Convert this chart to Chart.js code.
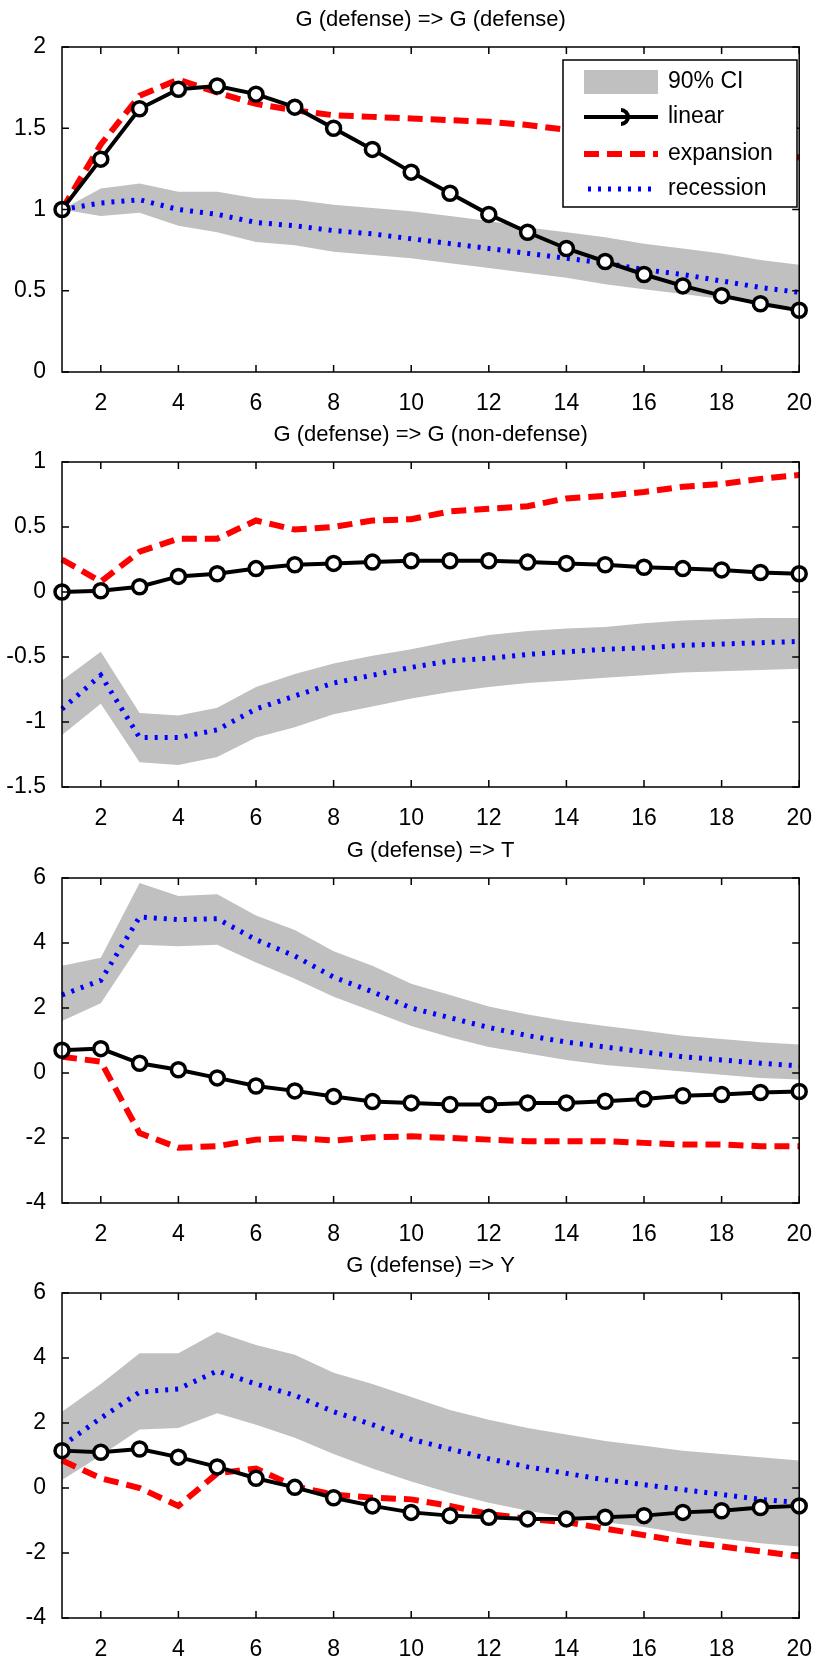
<!DOCTYPE html>
<html>
<head>
<meta charset="utf-8">
<script src="https://cdn.jsdelivr.net/npm/chart.js@4"></script>
<style>
  body { margin: 0; background: #fff; width: 822px; height: 1657px; overflow: hidden; }
  .panel { position: absolute; left: 0; width: 822px; height: 416px; }
</style>
</head>
<body>
<div class="panel" style="top:0"><canvas id="c0" width="822" height="416"></canvas></div>
<div class="panel" style="top:415px"><canvas id="c1" width="822" height="416"></canvas></div>
<div class="panel" style="top:831px"><canvas id="c2" width="822" height="416"></canvas></div>
<div class="panel" style="top:1246px"><canvas id="c3" width="822" height="416"></canvas></div>
<script>
const horizons = [1,2,3,4,5,6,7,8,9,10,11,12,13,14,15,16,17,18,19,20];
const xTicks = [2,4,6,8,10,12,14,16,18,20];

const titles = ['G (defense) => G (defense)', 'G (defense) => G (non-defense)', 'G (defense) => T', 'G (defense) => Y'];

// panel 1: G (defense) => G (defense)
const linear1 = [1,1.31,1.62,1.74,1.76,1.71,1.63,1.50,1.37,1.23,1.10,0.97,0.86,0.76,0.68,0.60,0.53,0.47,0.42,0.38];
const expansion1 = [1,1.4,1.7,1.8,1.72,1.65,1.61,1.58,1.57,1.56,1.55,1.54,1.52,1.49,1.47,1.45,1.42,1.39,1.36,1.32];
const recession1 = [1,1.04,1.06,1.0,0.97,0.92,0.9,0.87,0.85,0.82,0.79,0.76,0.73,0.7,0.67,0.63,0.6,0.56,0.52,0.49];
const ciHigh1 = [1,1.13,1.16,1.11,1.11,1.07,1.06,1.03,1.01,0.99,0.96,0.93,0.89,0.86,0.83,0.79,0.76,0.73,0.69,0.66];
const ciLow1 = [1,0.96,0.98,0.9,0.86,0.8,0.78,0.74,0.72,0.7,0.67,0.64,0.61,0.58,0.54,0.51,0.48,0.45,0.42,0.4];

// panel 2: G (defense) => G (non-defense)
const linear2 = [0,0.01,0.04,0.12,0.14,0.18,0.21,0.22,0.23,0.24,0.24,0.24,0.23,0.22,0.21,0.19,0.18,0.17,0.15,0.14];
const expansion2 = [0.25,0.08,0.31,0.41,0.41,0.55,0.48,0.50,0.55,0.56,0.62,0.64,0.66,0.72,0.74,0.77,0.81,0.83,0.87,0.9];
const recession2 = [-0.9,-0.64,-1.12,-1.12,-1.06,-0.9,-0.8,-0.7,-0.64,-0.58,-0.53,-0.51,-0.48,-0.46,-0.44,-0.43,-0.41,-0.40,-0.39,-0.38];
const ciHigh2 = [-0.68,-0.46,-0.93,-0.95,-0.89,-0.73,-0.63,-0.55,-0.49,-0.44,-0.38,-0.33,-0.30,-0.28,-0.27,-0.24,-0.22,-0.21,-0.2,-0.2];
const ciLow2 = [-1.1,-0.86,-1.31,-1.33,-1.27,-1.12,-1.04,-0.94,-0.88,-0.82,-0.77,-0.73,-0.7,-0.68,-0.66,-0.64,-0.62,-0.61,-0.6,-0.59];

// panel 3: G (defense) => T
const linear3 = [0.7,0.75,0.3,0.1,-0.15,-0.4,-0.55,-0.72,-0.88,-0.92,-0.97,-0.97,-0.92,-0.92,-0.87,-0.8,-0.7,-0.66,-0.6,-0.57];
const expansion3 = [0.5,0.35,-1.85,-2.3,-2.25,-2.05,-2.0,-2.08,-1.98,-1.95,-2.0,-2.05,-2.1,-2.1,-2.1,-2.15,-2.2,-2.2,-2.25,-2.25];
const recession3 = [2.4,2.85,4.8,4.72,4.75,4.1,3.6,2.95,2.5,2.0,1.7,1.4,1.15,0.95,0.8,0.65,0.5,0.4,0.3,0.22];
const ciHigh3 = [3.3,3.55,5.85,5.45,5.5,4.85,4.4,3.75,3.3,2.75,2.4,2.05,1.8,1.6,1.45,1.3,1.15,1.05,0.95,0.88];
const ciLow3 = [1.6,2.15,3.95,3.9,3.95,3.4,2.9,2.35,1.9,1.45,1.1,0.8,0.6,0.4,0.25,0.15,0.05,-0.05,-0.15,-0.2];

// panel 4: G (defense) => Y
const linear4 = [1.15,1.1,1.2,0.95,0.65,0.3,0.02,-0.3,-0.55,-0.75,-0.85,-0.9,-0.95,-0.95,-0.9,-0.85,-0.75,-0.7,-0.6,-0.55];
const expansion4 = [0.85,0.3,0.0,-0.55,0.45,0.6,0.05,-0.2,-0.3,-0.35,-0.55,-0.8,-0.95,-1.05,-1.25,-1.45,-1.65,-1.8,-1.95,-2.1];
const recession4 = [1.3,2.15,2.95,3.05,3.6,3.2,2.85,2.35,1.95,1.5,1.2,0.9,0.65,0.45,0.25,0.1,-0.05,-0.2,-0.35,-0.45];
const ciHigh4 = [2.35,3.2,4.15,4.15,4.8,4.4,4.1,3.55,3.2,2.8,2.4,2.1,1.85,1.65,1.45,1.3,1.15,1.05,0.95,0.85];
const ciLow4 = [0.25,1.0,1.8,1.85,2.3,1.95,1.55,1.05,0.6,0.2,-0.15,-0.45,-0.7,-0.9,-1.05,-1.2,-1.4,-1.55,-1.7,-1.8];

const yRanges = [[0,2,0.5],[-1.5,1,0.5],[-4,6,2],[-4,6,2]];
const legendLabels = ['90% CI','linear','expansion','recession'];

const panels = [
  [linear1, expansion1, recession1, ciHigh1, ciLow1],
  [linear2, expansion2, recession2, ciHigh2, ciLow2],
  [linear3, expansion3, recession3, ciHigh3, ciLow3],
  [linear4, expansion4, recession4, ciHigh4, ciLow4],
];

const FONT = 'Liberation Sans, Arial, sans-serif';
Chart.defaults.font.family = FONT;
Chart.defaults.font.size = 23;
Chart.defaults.color = '#000';

function pts(arr) { return horizons.map((h, i) => ({ x: h, y: arr[i] })); }

// frame, inward ticks, title, legend
const framePlugin = {
  id: 'frame',
  afterDatasetsDraw(chart, args, opts) {
    const ctx = chart.ctx, a = chart.chartArea;
    const xs = chart.scales.x, ys = chart.scales.y;
    ctx.save();
    ctx.strokeStyle = '#000';
    ctx.lineWidth = 1.5;
    ctx.strokeRect(a.left, a.top, a.right - a.left, a.bottom - a.top);
    xTicks.forEach(t => {
      const px = xs.getPixelForValue(t);
      ctx.beginPath();
      ctx.moveTo(px, a.bottom); ctx.lineTo(px, a.bottom - 7);
      ctx.moveTo(px, a.top); ctx.lineTo(px, a.top + 7);
      ctx.stroke();
    });
    ys.ticks.forEach(t => {
      const py = ys.getPixelForValue(t.value);
      ctx.beginPath();
      ctx.moveTo(a.left, py); ctx.lineTo(a.left + 7, py);
      ctx.moveTo(a.right, py); ctx.lineTo(a.right - 7, py);
      ctx.stroke();
    });
    ctx.fillStyle = '#000';
    ctx.font = '22px ' + FONT;
    ctx.textAlign = 'center';
    ctx.textBaseline = 'middle';
    ctx.fillText(opts.title, (a.left + a.right) / 2, 20);

    if (opts.legend) {
      const lx = 563, ly = 60, lw = 234, lh = 147;
      ctx.fillStyle = '#fff';
      ctx.fillRect(lx, ly, lw, lh);
      ctx.lineWidth = 1.5;
      ctx.strokeRect(lx, ly, lw, lh);
      const rows = [82, 117, 154, 189];
      const x0 = 584, x1 = 658;
      ctx.fillStyle = '#c0c0c0';
      ctx.fillRect(x0, rows[0] - 12, x1 - x0, 24);
      ctx.strokeStyle = '#000'; ctx.lineWidth = 4;
      ctx.beginPath(); ctx.moveTo(x0, rows[1]); ctx.lineTo(x1, rows[1]); ctx.stroke();
      ctx.beginPath(); ctx.arc((x0 + x1) / 2, rows[1], 7, -Math.PI / 2, Math.PI / 2); ctx.stroke();
      ctx.strokeStyle = '#ff0000'; ctx.lineWidth = 6; ctx.setLineDash([15, 8]);
      ctx.beginPath(); ctx.moveTo(x0, rows[2]); ctx.lineTo(x1, rows[2]); ctx.stroke();
      ctx.strokeStyle = '#0000ff'; ctx.lineWidth = 5; ctx.setLineDash([3, 7]);
      ctx.beginPath(); ctx.moveTo(x0 + 4, rows[3]); ctx.lineTo(x1, rows[3]); ctx.stroke();
      ctx.setLineDash([]);
      ctx.fillStyle = '#000';
      ctx.font = '23px ' + FONT;
      ctx.textAlign = 'left';
      legendLabels.forEach((l, i) => ctx.fillText(l, 668, rows[i]));
    }
    ctx.restore();
  }
};

panels.forEach((p, k) => {
  const [lin, exp, rec, hi, lo] = p;
  const [ymin, ymax, ystep] = yRanges[k];
  new Chart(document.getElementById('c' + k), {
    type: 'line',
    data: {
      datasets: [
        { data: pts(hi), order: 10, borderWidth: 0, pointRadius: 0, fill: false, backgroundColor: '#c0c0c0' },
        { data: pts(lo), order: 9, borderWidth: 0, pointRadius: 0, fill: '-1', backgroundColor: '#c0c0c0' },
        { data: pts(rec), order: 3, borderColor: '#0000ff', borderWidth: 5, borderDash: [3, 7], pointRadius: 0, fill: false },
        { data: pts(exp), order: 2, borderColor: '#ff0000', borderWidth: 6, borderDash: [15, 8], pointRadius: 0, fill: false },
        { data: pts(lin), order: 1, borderColor: '#000', borderWidth: 4, pointRadius: 7, pointBorderWidth: 3.5,
          pointBackgroundColor: '#fff', pointBorderColor: '#000', fill: false },
      ]
    },
    options: {
      responsive: false,
      animation: false,
      devicePixelRatio: 1,
      clip: false,
      layout: { padding: { left: 0, right: 13, top: 47, bottom: 0 } },
      plugins: {
        legend: { display: false },
        tooltip: { enabled: false },
        frame: { title: titles[k], legend: k === 0 },
      },
      scales: {
        x: {
          type: 'linear', min: 1, max: 20,
          afterBuildTicks: s => { s.ticks = xTicks.map(v => ({ value: v })); },
          afterFit: s => { s.height = 44; },
          grid: { display: false },
          border: { display: false },
          ticks: { padding: 10, maxRotation: 0 },
        },
        y: {
          min: ymin, max: ymax,
          ticks: { stepSize: ystep, padding: 8, callback: v => String(v) },
          afterFit: s => { s.width = 62; },
          grid: { display: false },
          border: { display: false },
        }
      }
    },
    plugins: [framePlugin]
  });
});
</script>
</body>
</html>
